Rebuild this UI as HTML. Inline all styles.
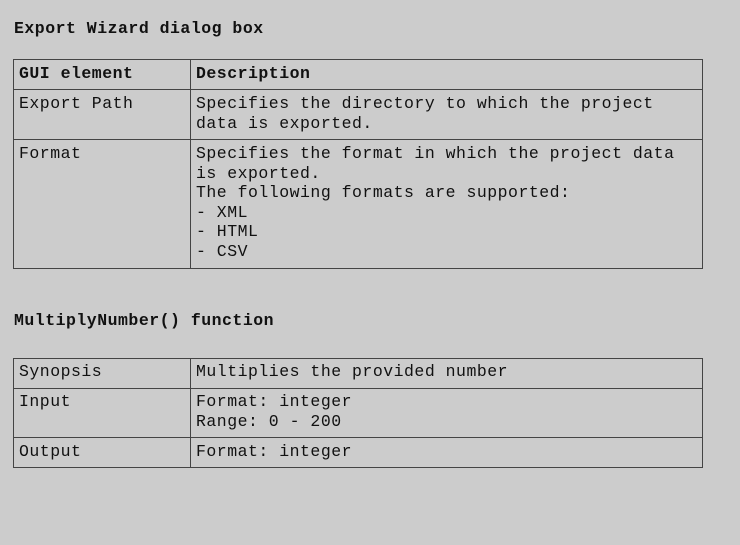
<!DOCTYPE html>
<html><head><style>
body{margin:0;width:740px;height:545px;background:#cccccc;position:relative;overflow:hidden;font-family:"Liberation Mono","Cousine","Courier New","DejaVu Sans Mono",monospace;font-size:16.5px;letter-spacing:0.5px;color:#111;}
.t{position:absolute;left:14px;font-weight:bold;line-height:20px;}
.b{position:absolute;border:1px solid #444;box-sizing:border-box;}
.c{position:absolute;line-height:19.6px;white-space:pre;}
.h{font-weight:bold;}
</style></head><body>
<div class="t" style="top:19px">Export Wizard dialog box</div>
<div class="b" style="left:13px;top:59px;width:690px;height:210px"></div>
<div class="b" style="left:13px;top:89px;width:690px;height:51px;border-left:none;border-right:none"></div>
<div class="b" style="left:190px;top:59px;width:1px;height:210px;border:none;background:#444"></div>
<div class="c h" style="left:19px;top:64px">GUI element</div>
<div class="c h" style="left:196px;top:64px">Description</div>
<div class="c" style="left:19px;top:94px">Export Path</div>
<div class="c" style="left:196px;top:94px">Specifies the directory to which the project
data is exported.</div>
<div class="c" style="left:19px;top:144px">Format</div>
<div class="c" style="left:196px;top:144px">Specifies the format in which the project data
is exported.
The following formats are supported:
- XML
- HTML
- CSV</div>

<div class="t" style="top:311px">MultiplyNumber() function</div>
<div class="b" style="left:13px;top:358px;width:690px;height:110px"></div>
<div class="b" style="left:13px;top:388px;width:690px;height:50px;border-left:none;border-right:none"></div>
<div class="b" style="left:190px;top:358px;width:1px;height:110px;border:none;background:#444"></div>
<div class="c" style="left:19px;top:362px">Synopsis</div>
<div class="c" style="left:196px;top:362px">Multiplies the provided number</div>
<div class="c" style="left:19px;top:392px">Input</div>
<div class="c" style="left:196px;top:392px">Format: integer
Range: 0 - 200</div>
<div class="c" style="left:19px;top:442px">Output</div>
<div class="c" style="left:196px;top:442px">Format: integer</div>
</body></html>
